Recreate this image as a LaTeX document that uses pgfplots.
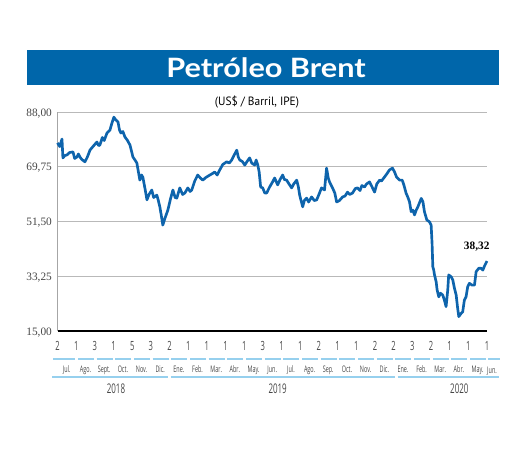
\documentclass[border=0pt]{standalone}
\usepackage{pgfplots}
\pgfplotsset{compat=1.18}
\usepackage{fontspec}
\setmainfont{Liberation Serif}
\newfontfamily\titlefont[FakeStretch=1.15]{Lato}
\newfontfamily\condsans[FakeStretch=0.6]{Open Sans}
\newfontfamily\subsans[FakeStretch=0.95]{PT Sans}
\definecolor{banner}{RGB}{0,102,170}
\definecolor{brent}{RGB}{14,100,172}
\definecolor{rulecol}{RGB}{150,208,238}
\definecolor{labgray}{RGB}{70,70,70}

\begin{document}
\begin{tikzpicture}[x=0.75pt, y=0.75pt]
\useasboundingbox (0,0) rectangle (520,458);
% title banner
\fill[banner] (27,373) rectangle (499,408);
\node[text=white, font=\titlefont\bfseries\fontsize{20}{22}\selectfont] at (266,390.5) {Petróleo Brent};
\node[text=black, font=\subsans\fontsize{9}{10}\selectfont] at (257,356) {(US\$ / Barril, IPE)};

\begin{axis}[
    at={(43.125pt,95.25pt)}, anchor=south west,
    scale only axis,
    width=322.1pt, height=164.25pt,
    xmin=0, xmax=23,
    ymin=15, ymax=88,
    clip=false,
    axis x line*=bottom,
    axis y line*=left,
    x axis line style={black, line width=1.4pt, -},
    y axis line style={gray!70, line width=0.7pt, -},
    ymajorgrids,
    grid style={gray!55, line width=0.7pt},
    major tick length=0pt,
    ytick={15,33.25,51.5,69.75,88},
    yticklabels={{15,00},{33,25},{51,50},{69,75},{88,00}},
    yticklabel style={font=\fontsize{8.5}{10}\selectfont, text=labgray, anchor=east, inner sep=0pt, xshift=-4pt, yshift=-1pt},
    xtick={0,...,23},
    xticklabels={2,1,3,1,5,3,2,1,1,1,1,3,1,1,2,1,1,2,2,3,2,1,1,1},
    xticklabel style={font=\condsans\fontsize{9.5}{11}\selectfont, text=labgray, anchor=base, inner sep=0pt, yshift=-14.6pt},
    extra x ticks={0.5,1.5,2.5,3.5,4.5,5.5,6.5,7.5,8.5,9.5,10.5,11.5,12.5,13.5,14.5,15.5,16.5,17.5,18.5,19.5,20.5,21.5,22.5},
    extra x tick labels={Jul.,Ago.,Sept.,Oct.,Nov.,Dic.,Ene.,Feb.,Mar.,Abr.,May.,Jun.,Jul.,Ago.,Sep.,Oct.,Nov.,Dic.,Ene.,Feb.,Mar.,Abr.,May.},
    extra x tick style={major tick length=0pt, xticklabel style={font=\condsans\fontsize{6.8}{8}\selectfont, yshift=-16.8pt}},
]
\addplot[brent, line width=2pt, line join=round] coordinates {
(0.00,77.7) (0.12,76.5) (0.24,79.0) (0.29,72.7) (0.40,73.5) (0.51,73.7)
(0.65,74.5) (0.83,74.7) (0.92,72.5) (1.04,73.0) (1.12,74.0) (1.20,73.0)
(1.30,72.2) (1.47,71.4) (1.60,73.0) (1.74,75.3) (1.90,76.5) (2.11,78.0)
(2.20,76.8) (2.27,77.0) (2.40,79.5) (2.50,78.5) (2.65,81.0) (2.81,82.0)
(2.90,84.0) (3.02,86.3) (3.10,85.5) (3.24,84.7) (3.32,82.0) (3.40,81.0)
(3.50,81.5) (3.61,79.7) (3.75,78.5) (3.88,77.0) (4.04,73.0) (4.15,72.0)
(4.25,71.0) (4.41,65.3) (4.50,67.0) (4.57,66.3) (4.70,62.0) (4.79,58.7)
(4.90,60.5) (5.05,62.0) (5.15,59.5) (5.32,60.3) (5.40,58.5) (5.48,56.4)
(5.56,53.5) (5.64,50.3) (5.75,52.5) (5.91,55.3) (6.05,59.0) (6.18,62.0)
(6.30,59.5) (6.39,59.3) (6.55,62.7) (6.70,60.5) (6.82,61.0) (6.98,62.7)
(7.10,61.5) (7.19,62.0) (7.35,65.0) (7.51,67.0) (7.65,66.0) (7.78,65.3)
(7.95,66.2) (8.16,67.0) (8.30,67.5) (8.42,68.0) (8.55,67.0) (8.69,68.7)
(8.85,70.5) (9.06,71.4) (9.20,71.0) (9.33,72.0) (9.45,73.5) (9.60,75.3)
(9.68,73.0) (9.76,72.0) (9.90,71.5) (10.03,70.3) (10.15,71.5) (10.29,72.7)
(10.40,71.0) (10.56,70.3) (10.64,72.0) (10.72,70.5) (10.80,68.0) (10.88,63.0)
(10.99,62.7) (11.10,61.0) (11.20,61.0) (11.36,63.0) (11.50,64.5) (11.63,66.0)
(11.79,63.7) (11.92,65.5) (12.06,67.0) (12.15,65.5) (12.27,65.3) (12.40,64.0)
(12.54,62.7) (12.65,64.0) (12.81,65.3) (12.90,63.0) (12.97,60.3) (13.13,56.4)
(13.22,58.5) (13.34,59.3) (13.45,58.0) (13.61,59.7) (13.75,58.5) (13.88,58.7)
(14.00,60.5) (14.14,62.7) (14.30,62.0) (14.41,69.3) (14.50,66.0) (14.57,64.7)
(14.73,62.7) (14.85,61.0) (14.95,58.0) (15.10,58.5) (15.27,59.7) (15.40,60.0)
(15.53,61.3) (15.65,60.5) (15.80,61.0) (15.95,62.5) (16.07,62.7) (16.20,61.8)
(16.30,63.5) (16.44,63.0) (16.55,64.0) (16.71,64.7) (16.85,63.0) (16.98,61.3)
(17.10,64.0) (17.25,65.3) (17.35,65.0) (17.51,66.3) (17.65,67.5) (17.78,68.7)
(17.94,69.3) (18.05,68.0) (18.16,66.3) (18.32,65.3) (18.46,65.3) (18.55,63.7)
(18.67,60.9) (18.75,59.8) (18.85,58.1) (18.94,54.8) (19.03,55.3) (19.12,53.7)
(19.21,55.3) (19.30,56.4) (19.48,59.2) (19.57,58.1) (19.65,54.8) (19.78,52.0)
(19.92,51.4) (20.01,50.3) (20.06,44.2) (20.10,36.4) (20.15,35.3) (20.19,33.7)
(20.28,31.4) (20.33,28.7) (20.42,26.4) (20.51,27.6) (20.63,27.0) (20.72,25.3)
(20.81,23.1) (20.90,28.7) (20.95,33.7) (21.08,33.1) (21.17,32.0) (21.26,29.2)
(21.35,27.0) (21.43,22.6) (21.49,19.8) (21.62,20.9) (21.70,21.4) (21.79,25.3)
(21.88,26.4) (21.97,29.8) (22.06,30.9) (22.20,30.3) (22.33,30.3) (22.42,34.8)
(22.56,35.9) (22.69,35.9) (22.78,35.3) (22.87,36.7) (23.00,38.32)
};
\node[font=\bfseries\fontsize{8.5}{10}\selectfont] at (axis cs:22.45,43) {38,32};
% last month label sits past the final tick
\node[font=\condsans\fontsize{6.8}{8}\selectfont, text=labgray, anchor=base, inner sep=0pt] at (axis cs:23.27,1.0) {Jun.};
% light blue rules under the ticks
\draw[rulecol, line width=0.8pt]
  (axis cs:-0.24,5.67) -- (axis cs:0.95,5.67)
  (axis cs:1.1,5.67) -- (axis cs:1.95,5.67)
  (axis cs:2.1,5.67) -- (axis cs:2.95,5.67)
  (axis cs:3.1,5.67) -- (axis cs:3.95,5.67)
  (axis cs:4.1,5.67) -- (axis cs:4.95,5.67)
  (axis cs:5.1,5.67) -- (axis cs:5.95,5.67)
  (axis cs:6.1,5.67) -- (axis cs:6.95,5.67)
  (axis cs:7.1,5.67) -- (axis cs:7.95,5.67)
  (axis cs:8.1,5.67) -- (axis cs:8.95,5.67)
  (axis cs:9.1,5.67) -- (axis cs:9.95,5.67)
  (axis cs:10.1,5.67) -- (axis cs:10.95,5.67)
  (axis cs:11.1,5.67) -- (axis cs:11.95,5.67)
  (axis cs:12.1,5.67) -- (axis cs:12.95,5.67)
  (axis cs:13.1,5.67) -- (axis cs:13.95,5.67)
  (axis cs:14.1,5.67) -- (axis cs:14.95,5.67)
  (axis cs:15.1,5.67) -- (axis cs:15.95,5.67)
  (axis cs:16.1,5.67) -- (axis cs:16.95,5.67)
  (axis cs:17.1,5.67) -- (axis cs:17.95,5.67)
  (axis cs:18.1,5.67) -- (axis cs:18.95,5.67)
  (axis cs:19.1,5.67) -- (axis cs:19.95,5.67)
  (axis cs:20.1,5.67) -- (axis cs:20.95,5.67)
  (axis cs:21.1,5.67) -- (axis cs:21.95,5.67)
  (axis cs:22.1,5.67) -- (axis cs:22.95,5.67)
  (axis cs:23.08,5.67) -- (axis cs:23.7,5.67);
\draw[rulecol, line width=0.8pt] (axis cs:-0.29,-0.33) -- (axis cs:5.91,-0.33);
\draw[rulecol, line width=0.8pt] (axis cs:6.07,-0.33) -- (axis cs:18.05,-0.33);
\draw[rulecol, line width=0.8pt] (axis cs:18.21,-0.33) -- (axis cs:23.66,-0.33);
% years
\node[font=\condsans\fontsize{10}{11}\selectfont, text=labgray, anchor=base, inner sep=0pt] at (axis cs:3.13,-5.67) {2018};
\node[font=\condsans\fontsize{10}{11}\selectfont, text=labgray, anchor=base, inner sep=0pt] at (axis cs:11.79,-5.67) {2019};
\node[font=\condsans\fontsize{10}{11}\selectfont, text=labgray, anchor=base, inner sep=0pt] at (axis cs:21.52,-5.67) {2020};
\end{axis}
\end{tikzpicture}
\end{document}
